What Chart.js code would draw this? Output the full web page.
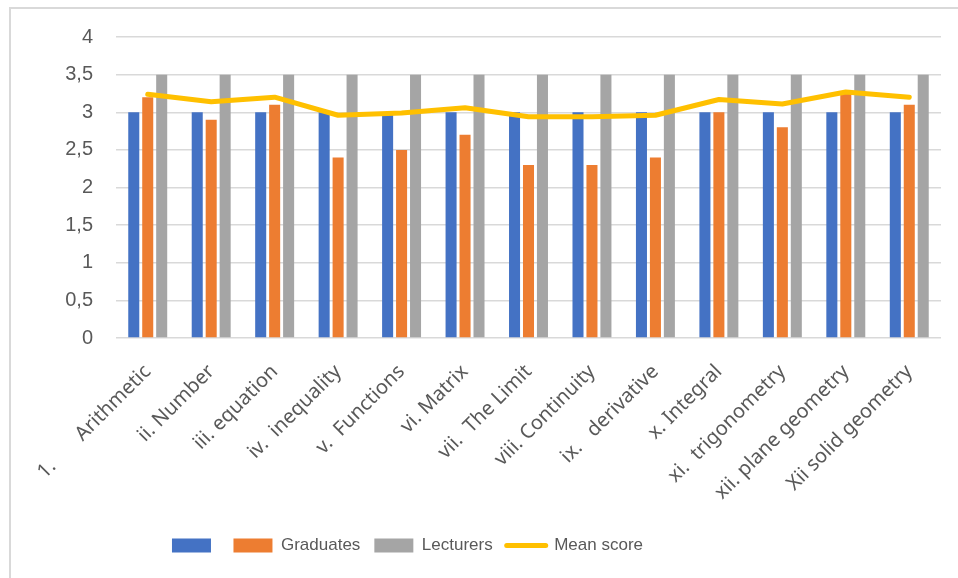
<!DOCTYPE html>
<html>
<head>
<meta charset="utf-8">
<script src="https://cdn.jsdelivr.net/npm/chart.js@4.4.1/dist/chart.umd.min.js"></script>
<style>
    html, body { margin: 0; padding: 0; background: #fff; }
    #wrap { position: relative; width: 958px; height: 578px; }
    #frame { position: absolute; left: 9px; top: 7px; right: 0; bottom: 0; border-left: 2px solid #d9d9d9; border-top: 2px solid #d9d9d9; pointer-events: none; }
</style>
</head>
<body>
<div id="wrap">
    <canvas id="chart" width="958" height="578"></canvas>
    <div id="frame"></div>
</div>
<script>
// categories (x axis)
const topics = [
    '1.       Arithmetic', 'ii. Number', 'iii. equation', 'iv.  inequality',
    'v.  Functions', 'vi. Matrix', 'vii.  The Limit', 'viii. Continuity',
    'ix.   derivative', 'x. Integral', 'xi.  trigonometry', 'xii. plane geometry',
    'Xii solid geometry'
];

// series values
const firstSeries = [3, 3, 3, 3, 3, 3, 3, 3, 3, 3, 3, 3, 3];
const graduates   = [3.2, 2.9, 3.1, 2.4, 2.5, 2.7, 2.3, 2.3, 2.4, 3.0, 2.8, 3.25, 3.1];
const lecturers   = [3.5, 3.5, 3.5, 3.5, 3.5, 3.5, 3.5, 3.5, 3.5, 3.5, 3.5, 3.5, 3.5];
const meanScore   = [3.24, 3.14, 3.2, 2.96, 2.99, 3.06, 2.94, 2.94, 2.96, 3.17, 3.11, 3.27, 3.2];

// y axis ticks
const yTicks = [0, 0.5, 1, 1.5, 2, 2.5, 3, 3.5, 4];

const textColor = '#595959';
const gridColor = '#d9d9d9';

const barCommon = { categoryPercentage: 0.66, barPercentage: 0.79, order: 1 };

// legend sits a bit left of the page centre in the original
const legendShift = {
    id: 'legendShift',
    afterLayout(chart) {
        chart.legend.left -= 63;
        chart.legend.right -= 63;
    }
};

const ctx = document.getElementById('chart').getContext('2d');
new Chart(ctx, {
    data: {
        labels: topics,
        datasets: [
            { type: 'bar', label: '', data: firstSeries, backgroundColor: '#4472C4', ...barCommon },
            { type: 'bar', label: 'Graduates', data: graduates, backgroundColor: '#ED7D31', ...barCommon },
            { type: 'bar', label: 'Lecturers', data: lecturers, backgroundColor: '#A5A5A5', ...barCommon },
            {
                type: 'line', label: 'Mean score', data: meanScore,
                borderColor: '#FFC000', backgroundColor: '#FFC000',
                borderWidth: 5, pointRadius: 0, tension: 0,
                borderCapStyle: 'round', borderJoinStyle: 'round',
                order: 0
            }
        ]
    },
    plugins: [legendShift],
    options: {
        responsive: false,
        animation: false,
        layout: { padding: { left: 0, top: 37, right: 17, bottom: 14 } },
        plugins: {
            tooltip: { enabled: false },
            legend: {
                position: 'bottom',
                labels: {
                    color: textColor,
                    font: { family: 'Liberation Sans, Arial, sans-serif', size: 17 },
                    usePointStyle: true,
                    pointStyleWidth: 39,
                    boxHeight: 14,
                    padding: 14,
                    sort: (a, b) => a.datasetIndex - b.datasetIndex,
                    generateLabels: (chart) => {
                        const items = Chart.defaults.plugins.legend.labels.generateLabels(chart);
                        items.forEach(item => {
                            const ds = chart.data.datasets[item.datasetIndex];
                            if (ds.type === 'line') {
                                item.pointStyle = 'line';
                                item.lineWidth = 5;
                                item.strokeStyle = ds.borderColor;
                                item.lineCap = 'round';
                            } else {
                                item.pointStyle = 'rect';
                                item.lineWidth = 0;
                            }
                        });
                        return items;
                    }
                }
            }
        },
        scales: {
            x: {
                grid: { display: false },
                border: { display: false },
                ticks: {
                    color: textColor,
                    font: { family: 'Noto Sans, sans-serif', size: 20 },
                    autoSkip: false,
                    minRotation: 45,
                    maxRotation: 45,
                    padding: 14
                },
                afterFit: (scale) => { scale.height = 185; }
            },
            y: {
                min: 0,
                max: 4,
                afterBuildTicks: (scale) => { scale.ticks = yTicks.map(v => ({ value: v })); },
                grid: { color: gridColor, lineWidth: 1.5, drawTicks: false },
                border: { display: false },
                ticks: {
                    color: textColor,
                    font: { family: 'Liberation Sans, Arial, sans-serif', size: 20 },
                    padding: 23,
                    callback: (v) => String(v).replace('.', ',')
                },
                afterFit: (scale) => { scale.width = 116; }
            }
        }
    }
});
</script>
</body>
</html>
